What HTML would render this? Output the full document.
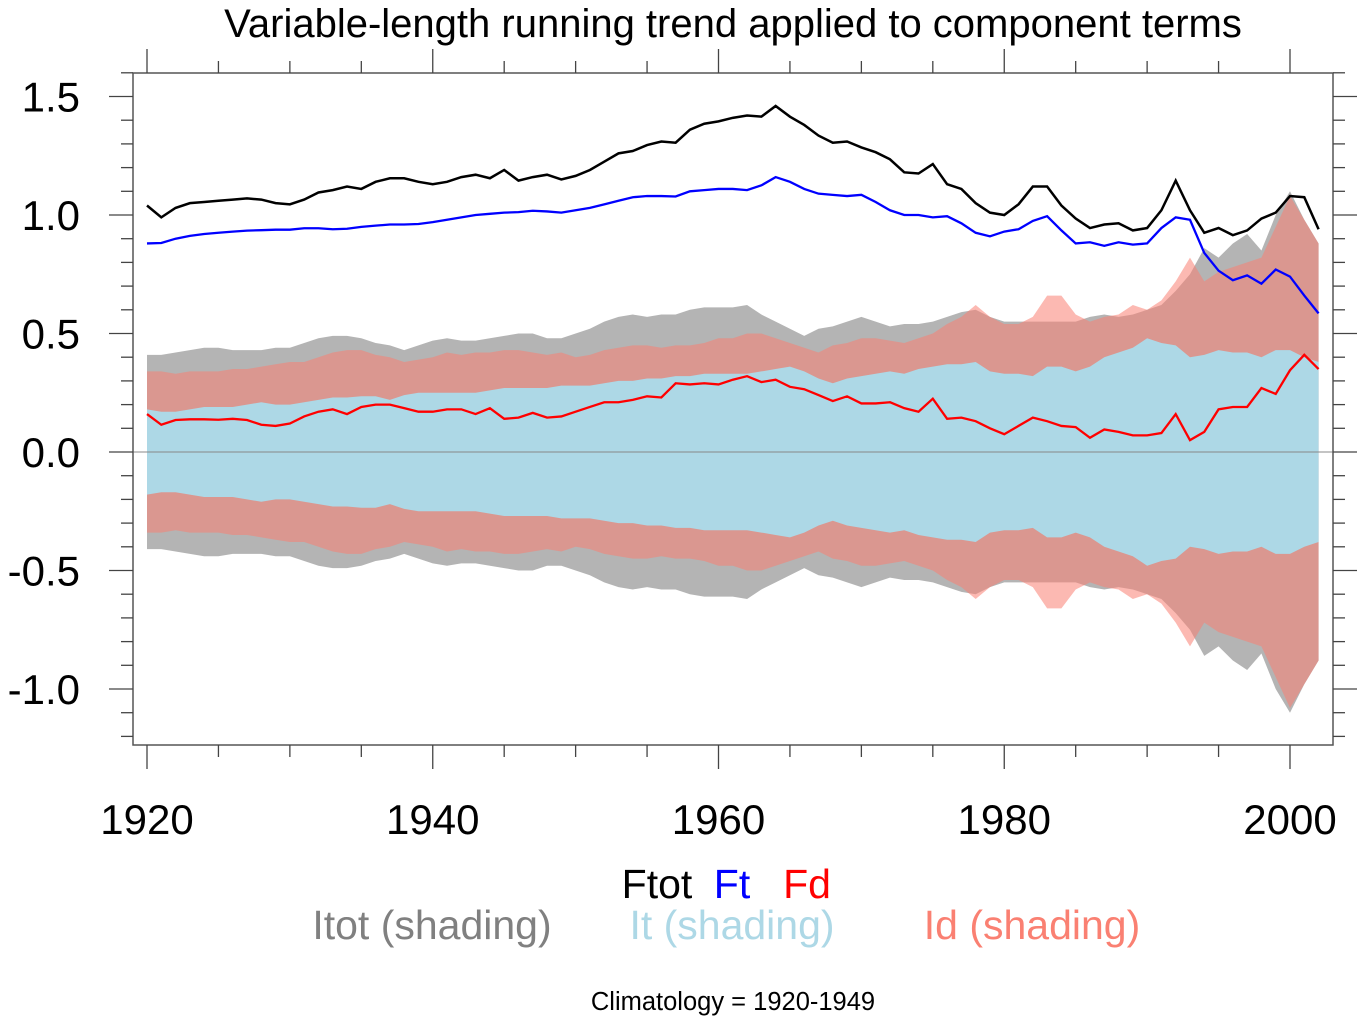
<!DOCTYPE html>
<html><head><meta charset="utf-8"><style>
body{margin:0;background:#fff;}
svg text{font-family:"Liberation Sans",sans-serif;}
</style></head><body>
<svg id="chart" width="1365" height="1024" xmlns="http://www.w3.org/2000/svg">
<text x="733" y="37" font-size="40" text-anchor="middle">Variable-length running trend applied to component terms</text>
<g id="plot"></g>
<g id="axes"></g>
<g font-size="41" text-anchor="middle">
<text x="657" y="898" fill="#000">Ftot</text>
<text x="732" y="898" fill="#0000ff">Ft</text>
<text x="807" y="898" fill="#ff0000">Fd</text>
<text x="432" y="939" fill="#808080">Itot (shading)</text>
<text x="732" y="939" fill="#add8e6">It (shading)</text>
<text x="1032" y="939" fill="#fa8072">Id (shading)</text>
</g>
<text x="733" y="1010" font-size="25.5" text-anchor="middle">Climatology = 1920-1949</text>
</svg>
<script>
const startYear = 1920;
const ftot = [1.04,0.99,1.03,1.05,1.055,1.06,1.065,1.07,1.065,1.05,
1.045,1.065,1.095,1.105,1.12,1.11,1.14,1.155,1.155,1.14,
1.13,1.14,1.16,1.17,1.155,1.19,1.145,1.16,1.17,1.15,
1.165,1.19,1.225,1.26,1.27,1.295,1.31,1.305,1.36,1.385,
1.395,1.41,1.42,1.415,1.46,1.415,1.38,1.335,1.305,1.31,
1.285,1.265,1.235,1.18,1.175,1.215,1.13,1.11,1.05,1.01,
1.0,1.045,1.12,1.12,1.04,0.985,0.945,0.96,0.965,0.935,
0.945,1.02,1.145,1.02,0.925,0.945,0.915,0.935,0.985,1.01,
1.08,1.075,0.94];
const ft = [0.88,0.882,0.90,0.912,0.92,0.925,0.93,0.934,0.936,0.938,
0.938,0.944,0.944,0.94,0.942,0.95,0.955,0.96,0.96,0.962,
0.97,0.98,0.99,1.0,1.005,1.01,1.012,1.018,1.015,1.01,
1.02,1.03,1.045,1.06,1.075,1.08,1.08,1.078,1.10,1.105,
1.11,1.11,1.105,1.125,1.16,1.14,1.11,1.09,1.085,1.08,
1.085,1.055,1.02,1.0,1.0,0.99,0.995,0.965,0.925,0.91,
0.93,0.94,0.975,0.995,0.935,0.88,0.885,0.87,0.885,0.875,
0.88,0.945,0.99,0.98,0.84,0.765,0.725,0.745,0.71,0.77,
0.74,0.66,0.585];
const fd = [0.16,0.115,0.135,0.138,0.138,0.136,0.14,0.135,0.115,0.11,
0.12,0.15,0.17,0.18,0.16,0.19,0.2,0.2,0.185,0.17,
0.17,0.18,0.18,0.16,0.185,0.14,0.145,0.165,0.145,0.15,
0.17,0.19,0.21,0.21,0.22,0.235,0.23,0.29,0.285,0.29,
0.285,0.305,0.32,0.295,0.305,0.275,0.265,0.24,0.215,0.235,
0.205,0.205,0.21,0.185,0.17,0.225,0.14,0.145,0.13,0.1,
0.075,0.11,0.145,0.13,0.11,0.105,0.06,0.095,0.085,0.07,
0.07,0.08,0.16,0.05,0.085,0.18,0.19,0.19,0.27,0.245,
0.345,0.41,0.35];
const itBand = [0.18,0.17,0.17,0.18,0.19,0.19,0.19,0.20,0.21,0.20,
0.20,0.21,0.22,0.23,0.23,0.235,0.235,0.22,0.24,0.25,
0.25,0.25,0.25,0.25,0.26,0.27,0.27,0.27,0.27,0.28,
0.28,0.28,0.29,0.30,0.30,0.31,0.31,0.32,0.32,0.33,
0.33,0.33,0.33,0.34,0.35,0.36,0.34,0.31,0.29,0.31,
0.32,0.33,0.34,0.33,0.35,0.36,0.37,0.37,0.38,0.34,
0.33,0.33,0.32,0.36,0.36,0.34,0.36,0.40,0.42,0.44,
0.48,0.46,0.45,0.40,0.41,0.43,0.42,0.42,0.40,0.43,
0.43,0.40,0.38];
const idBand = [0.34,0.34,0.33,0.34,0.34,0.34,0.35,0.35,0.36,0.37,
0.38,0.38,0.40,0.42,0.43,0.43,0.41,0.40,0.38,0.39,
0.40,0.42,0.41,0.42,0.42,0.43,0.43,0.42,0.41,0.42,
0.40,0.41,0.43,0.44,0.45,0.45,0.44,0.45,0.45,0.46,
0.48,0.48,0.50,0.50,0.48,0.46,0.44,0.42,0.45,0.46,
0.48,0.48,0.47,0.46,0.48,0.50,0.54,0.57,0.62,0.57,
0.54,0.54,0.57,0.66,0.66,0.58,0.55,0.57,0.58,0.62,
0.60,0.64,0.72,0.82,0.72,0.76,0.78,0.80,0.82,0.95,
1.08,0.98,0.88];
const itotBand = [0.41,0.41,0.42,0.43,0.44,0.44,0.43,0.43,0.43,0.44,
0.44,0.46,0.48,0.49,0.49,0.48,0.46,0.45,0.43,0.45,
0.47,0.48,0.47,0.47,0.48,0.49,0.50,0.50,0.48,0.48,
0.50,0.52,0.55,0.57,0.58,0.57,0.58,0.58,0.60,0.61,
0.61,0.61,0.62,0.58,0.55,0.52,0.49,0.52,0.53,0.55,
0.57,0.55,0.53,0.54,0.54,0.55,0.57,0.59,0.60,0.57,
0.55,0.55,0.55,0.55,0.55,0.55,0.57,0.58,0.57,0.58,
0.60,0.62,0.68,0.75,0.86,0.82,0.88,0.92,0.85,1.0,
1.10,0.98,0.88];
const yTicks = [-1.0,-0.5,0.0,0.5,1.0,1.5];
const yTickLabels = ["-1.0","-0.5","0.0","0.5","1.0","1.5"];
const xTicks = [1920,1940,1960,1980,2000];

const L=133,R=1333,T=73,B=745;
const xs = y => 147 + (y-1920)*(1290-147)/80;
const ys = v => 452 - v*237;
const NS="http://www.w3.org/2000/svg";
const plot=document.getElementById('plot'), axes=document.getElementById('axes');
function mk(tag,attrs,parent){const e=document.createElementNS(NS,tag);for(const k in attrs)e.setAttribute(k,attrs[k]);parent.appendChild(e);return e;}
function band(arr){let up=[],dn=[];arr.forEach((v,i)=>{up.push(xs(startYear+i)+','+ys(v));});for(let i=arr.length-1;i>=0;i--)dn.push(xs(startYear+i)+','+ys(-arr[i]));return up.concat(dn).join(' ');}
let p;
p=mk('polygon',{points:band(itotBand),fill:'#b4b4b4'},plot);


p=mk('polygon',{points:band(idBand),fill:'#fa8072','fill-opacity':'0.55'},plot);


p=mk('polygon',{points:band(itBand),fill:'#add8e6'},plot);


p=mk('line',{x1:L,x2:R,y1:ys(0),y2:ys(0),stroke:'#888',"stroke-width":1},plot);


function line(arr){return arr.map((v,i)=>xs(startYear+i)+','+ys(v)).join(' ');}
p=mk('polyline',{points:line(ftot),fill:'none',stroke:'#000','stroke-width':2.5},plot);


p=mk('polyline',{points:line(ft),fill:'none',stroke:'#0000ff','stroke-width':2.3},plot);


p=mk('polyline',{points:line(fd),fill:'none',stroke:'#ff0000','stroke-width':2.3},plot);


p=mk('rect',{x:L,y:T,width:R-L,height:B-T,fill:'none',stroke:'#555','stroke-width':1.5},axes);


for(let yr=1920;yr<=2000;yr+=5){const x=xs(yr);const len=(yr%20===0)?24:12;
 mk('line',{x1:x,x2:x,y1:B,y2:B+len,stroke:'#444','stroke-width':1.3},axes);
 mk('line',{x1:x,x2:x,y1:T,y2:T-len,stroke:'#444','stroke-width':1.3},axes);}
xTicks.forEach(yr=>{const t=mk('text',{x:xs(yr),y:834,'font-size':42,'text-anchor':'middle'},axes);t.textContent=String(yr);

});
for(let k=-12;k<=16;k++){const v=k/10;const y=ys(v);if(y<T-0.5||y>B+0.5)continue;const len=(k%5===0)?24:12;
 mk('line',{x1:L,x2:L-len,y1:y,y2:y,stroke:'#444','stroke-width':1.3},axes);
 mk('line',{x1:R,x2:R+len,y1:y,y2:y,stroke:'#444','stroke-width':1.3},axes);}
yTicks.forEach((v,i)=>{const t=mk('text',{x:80,y:ys(v)+15,'font-size':42,'text-anchor':'end'},axes);t.textContent=yTickLabels[i];

});
</script>
</body></html>
